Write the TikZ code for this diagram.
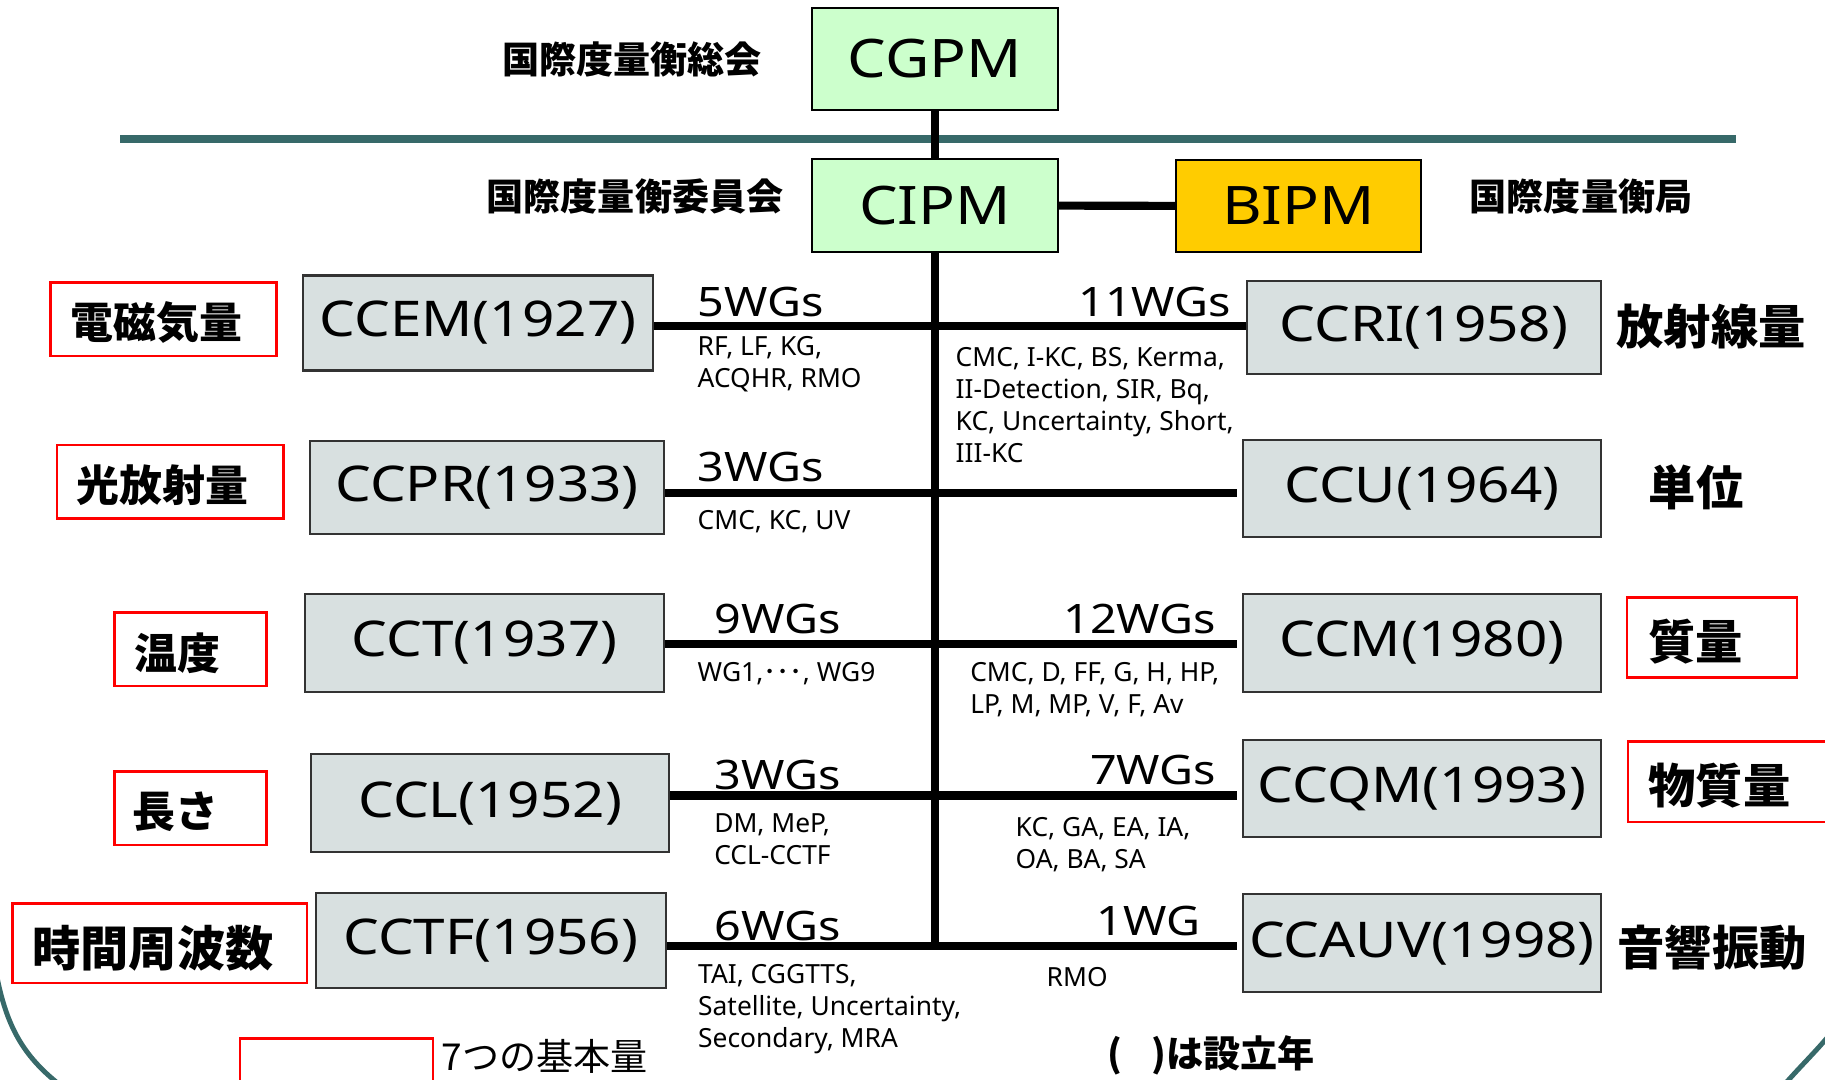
\documentclass[tikz,border=0pt]{standalone}
\usepackage{fontspec}
\setmainfont{Noto Sans}[FakeStretch=1.15]
\newfontfamily\plainsans{Noto Sans}
\newfontfamily\jpfont{Noto Sans CJK JP}
\usetikzlibrary{positioning}
\definecolor{cgpmgreen}{RGB}{204,255,204}
\definecolor{bipmgold}{RGB}{255,204,0}
\definecolor{ccgray}{RGB}{216,224,224}
\definecolor{frameteal}{RGB}{55,105,105}
\definecolor{markred}{RGB}{255,0,0}

\begin{document}
\begin{tikzpicture}[x=.01cm,y=-.01cm,
    topbox/.style={draw=black,line width=.6pt,fill=cgpmgreen,minimum width=2.45cm,inner sep=1pt,font=\fontsize{15.1}{18}\selectfont},
    ccbox/.style={draw=black!80,line width=.6pt,fill=ccgray,minimum width=3.58cm,inner sep=1pt,font=\fontsize{14}{17}\selectfont},
    qbox/.style={draw=markred,line width=.7pt,minimum height=.735cm},
    toplabel/.style={font=\jpfont\bfseries\fontsize{10.55}{12}\selectfont,inner sep=0},
    qtext/.style={font=\jpfont\bfseries\fontsize{12.2}{14}\selectfont,inner sep=0},
    qbig/.style={font=\jpfont\bfseries\fontsize{13.45}{15}\selectfont,inner sep=0},
    wgn/.style={font=\fontsize{11.55}{14}\selectfont,inner sep=0},
    wglist/.style={font=\plainsans\fontsize{7.5}{9.1}\selectfont,inner sep=0,align=left,anchor=north west},
    link/.style={line width=2.3pt}]
  \useasboundingbox (0,0) rectangle (1825,1079);
  \clip (0,0) rectangle (1825,1079);

  \draw[frameteal,line width=2.3pt] (120,139) -- (1736,139);
  \draw[frameteal,line width=1.4pt] (-4,972) .. controls (6,1025) and (22,1055) .. (60,1085);
  \draw[frameteal,line width=1.4pt] (1835,1028) .. controls (1818,1050) and (1800,1066) .. (1778,1092);

  \node[topbox,minimum height=1.02cm] (cgpm) at (935,59) {CGPM};
  \node[topbox,minimum height=.93cm] (cipm) at (935,205.5) {CIPM};
  \node[topbox,fill=bipmgold,minimum height=.92cm] (bipm) at (1298.5,206) {BIPM};
  \node[toplabel] (cgpmjp) at (632,59) {国際度量衡総会};
  \node[toplabel] (cipmjp) at (635,196) {国際度量衡委員会};
  \node[toplabel] (bipmjp) at (1581,196) {国際度量衡局};

  \draw[link] (cgpm) -- (cipm);
  \draw[link] (cipm) -- (bipm);
  \coordinate (spineend) at (935,950);
  \draw[link] (cipm.south) -- (spineend);

  \node[ccbox,minimum width=3.5cm,minimum height=.95cm] (ccem) at (478,323) {CCEM(1927)};
  \node[ccbox,minimum width=3.54cm,minimum height=.93cm] (ccpr) at (487,487.5) {CCPR(1933)};
  \node[ccbox,minimum width=3.59cm,minimum height=.98cm] (cct) at (484.7,643) {CCT(1937)};
  \node[ccbox,minimum height=.98cm] (ccl) at (490.2,803.3) {CCL(1952)};
  \node[ccbox,minimum width=3.5cm,minimum height=.95cm] (cctf) at (490.9,940.2) {CCTF(1956)};
  \node[ccbox,minimum width=3.54cm,minimum height=.93cm] (ccri) at (1424,327.4) {CCRI(1958)};
  \node[ccbox,minimum height=.97cm] (ccu) at (1422,488.5) {CCU(1964)};
  \node[ccbox,minimum height=.98cm] (ccm) at (1422,643) {CCM(1980)};
  \node[ccbox,minimum height=.97cm] (ccqm) at (1422,788.7) {CCQM(1993)};
  \node[ccbox,minimum height=.98cm] (ccauv) at (1422,943.2) {CCAUV(1998)};

  \coordinate (row1) at (935,326);
  \coordinate (row2) at (935,493);
  \coordinate (row3) at (935,644);
  \coordinate (row4) at (935,795.5);
  \coordinate (row5) at (935,946);
  \draw[link] (ccem.east |- row1) -- (ccri.west |- row1);
  \draw[link,shorten >=1.5pt] (ccpr.east |- row2) -- (ccu.west |- row2);
  \draw[link,shorten >=1.5pt] (cct.east |- row3) -- (ccm.west |- row3);
  \draw[link,shorten >=1.5pt] (ccl.east |- row4) -- (ccqm.west |- row4);
  \draw[link,shorten >=1.5pt] (cctf.east |- row5) -- (ccauv.west |- row5);

  \node[qbox,minimum width=2.26cm] (qem) at (163.6,319.4) {};
  \node[qtext] (qemtxt) at (156.5,322) {電磁気量};
  \node[qbox,minimum width=2.26cm] (qpr) at (170.2,481.7) {};
  \node[qtext] (qprtxt) at (162.5,485.7) {光放射量};
  \node[qbox,minimum width=1.52cm] (qt) at (190.6,649.4) {};
  \node[qtext] (qttxt) at (177.5,653) {温度};
  \node[qbox,minimum width=1.52cm] (ql) at (190.6,808.4) {};
  \node[qtext] (qltxt) at (175.5,811.7) {長さ};
  \node[qbox,minimum width=2.94cm,minimum height=.794cm] (qtf) at (159.8,943) {};
  \node[qbig,font=\jpfont\bfseries\fontsize{13.7}{15}\selectfont] (qtftxt) at (153,948) {時間周波数};
  \node[qbox,minimum width=1.7cm,minimum height=.796cm] (qm) at (1712,637.5) {};
  \node[qbig] (qmtxt) at (1695.5,641.7) {質量};
  \node[qbox,minimum width=2.3cm,minimum height=.8cm,anchor=west] (qqm) at (1627,781.7) {};
  \node[qbig] (qqmtxt) at (1719.5,786) {物質量};
  \node[qbig] (qritxt) at (1711,327) {放射線量};
  \node[qbig] (qutxt) at (1696,487) {単位};
  \node[qbig] (qauvtxt) at (1712,948) {音響振動};

  \node[wgn,anchor=base west] (wgem) at (697,316) {5WGs};
  \node[wgn,anchor=base east] (wgri) at (1232,316) {11WGs};
  \node[wgn,anchor=base west] (wgpr) at (697,481.7) {3WGs};
  \node[wgn,anchor=base west] (wgt) at (714,633.3) {9WGs};
  \node[wgn,anchor=base east] (wgm) at (1217,633) {12WGs};
  \node[wgn,anchor=base west] (wgl) at (714,789) {3WGs};
  \node[wgn,anchor=base east] (wgqm) at (1217,784) {7WGs};
  \node[wgn,anchor=base west] (wgtf) at (714,940) {6WGs};
  \node[wgn,anchor=base east] (wgauv) at (1201,935) {1WG};

  \node[wglist] (listem) at (697,336) {RF, LF, KG,\\ACQHR, RMO};
  \node[wglist] (listri) at (955,347) {CMC, I-KC, BS, Kerma,\\II-Detection, SIR, Bq,\\KC, Uncertainty, Short,\\III-KC};
  \node[wglist] (listpr) at (697,510) {CMC, KC, UV};
  \node[wglist] (listt) at (697,661.7) {WG1,{\jpfont ･･･}, WG9};
  \node[wglist] (listm) at (969.6,661.7) {CMC, D, FF, G, H, HP,\\LP, M, MP, V, F, Av};
  \node[wglist] (listl) at (713.6,813) {DM, MeP,\\CCL-CCTF};
  \node[wglist] (listqm) at (1015,816.7) {KC, GA, EA, IA,\\OA, BA, SA};
  \node[wglist] (listtf) at (697.5,964) {TAI, CGGTTS,\\Satellite, Uncertainty,\\Secondary, MRA};
  \node[wglist] (listauv) at (1046,966.7) {RMO};

  \node[qbox,minimum width=1.93cm,minimum height=.8cm,anchor=north west] (legendbox) at (238.8,1037.3) {};
  \node[font=\jpfont\fontsize{10.55}{12}\selectfont,inner sep=0] (legendtxt) at (545,1056) {7つの基本量};
  \node[toplabel] (yeartxt) at (1211,1055) {(\hspace{.8em})は設立年};
\end{tikzpicture}
\end{document}
